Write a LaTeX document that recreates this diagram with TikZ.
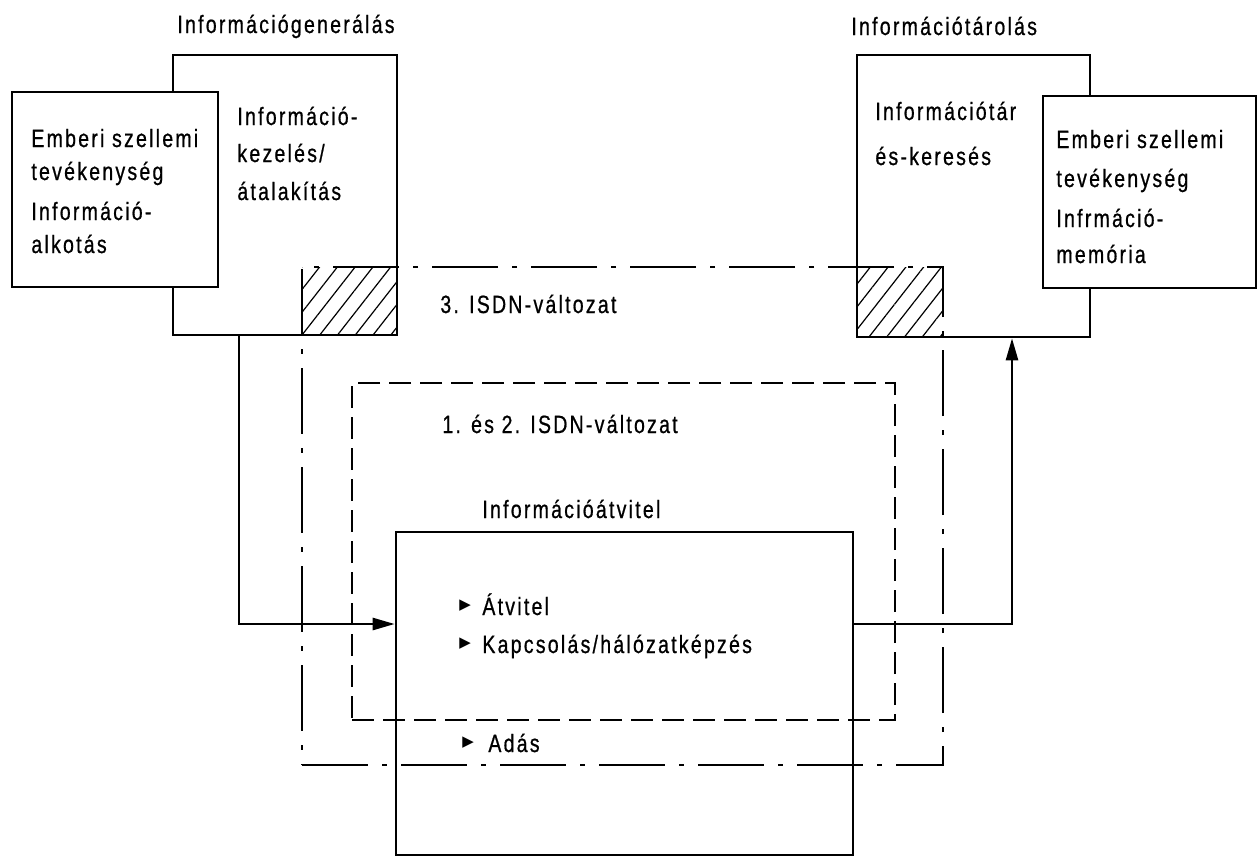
\documentclass[tikz,border=0pt]{standalone}
\usepackage{fontspec}
\setmainfont{Liberation Sans}[FakeStretch=0.78,LetterSpace=9,FakeBold=0.7]
\newfontfamily\symfont{DejaVu Sans}
\usetikzlibrary{fit,arrows.meta,patterns.meta}
\tikzset{
  box/.style={draw, line width=1.3pt, inner sep=0pt},
  whitebox/.style={box, fill=white},
  hatchbox/.style={inner sep=0pt, pattern={Lines[angle=52,distance=7pt,line width=0.6pt]}},
  dashdotbox/.style={draw, line width=1.3pt, inner sep=0pt, dash pattern=on 33pt off 7pt on 2.5pt off 7pt},
  dashbox/.style={draw, line width=1.3pt, inner sep=0pt, dash pattern=on 11pt off 4.5pt},
  flow/.style={line width=1.3pt, -{Triangle[length=11pt,width=6pt]}},
  lbl/.style={anchor=base west, inner sep=0pt, font=\fontsize{12.5}{15}\selectfont},
  bullet/.style={anchor=base west, inner sep=0pt, font=\symfont\fontsize{7.5}{9}\selectfont},
}
\begin{document}
\begin{tikzpicture}[x=0.5pt,y=-0.5pt]
\useasboundingbox (0,0) rectangle (1258,858);

% outer boxes: generation and storage
\node[box, fit={(173,55) (397,335)}] (gen) {};
\node[box, fit={(857,55) (1090,337)}] (tar) {};

% hatched overlap corners
\node[hatchbox, fit={(302,267) (397,335)}] (hatchL) {};
\node[hatchbox, fit={(857,267) (943,337)}] (hatchR) {};

% human activity boxes
\node[whitebox, fit={(12,92) (218,287)}] (humL) {};
\node[whitebox, fit={(1043,96) (1256,288)}] (humR) {};

% ISDN variant boundaries
\node[dashdotbox, fit={(302,267) (943,765)}] (isdn3) {};
\node[dashbox, fit={(352,383) (895,720)}] (isdn12) {};

% transmission box
\node[box, fit={(396,532) (853,855)}] (atv) {};

% connectors
\coordinate (lbend) at (239,624);
\draw[flow] (gen.south -| lbend) -- (lbend) -- (atv.west |- lbend);
\coordinate (rbend) at (1012,624);
\draw[flow] (atv.east |- rbend) -- (rbend) -- (tar.south -| rbend);

% titles
\node[lbl] (tgen) at (177,33) {Információgenerálás};
\node[lbl] (ttar) at (851,35) {Információtárolás};
\node[lbl] (tatv) at (482,518) {Információátvitel};

% left group texts
\node[lbl] (l1) at (31,147) {Emberi szellemi};
\node[lbl] (l2) at (31,180) {tevékenység};
\node[lbl] (l3) at (31,220) {Információ-};
\node[lbl] (l4) at (31,253) {alkotás};
\node[lbl] (g1) at (237,125) {Információ-};
\node[lbl] (g2) at (237,162) {kezelés/};
\node[lbl] (g3) at (237,200) {átalakítás};

% right group texts
\node[lbl] (s1) at (875,120) {Információtár};
\node[lbl] (s2) at (875,165) {és-keresés};
\node[lbl] (r1) at (1056,148) {Emberi szellemi};
\node[lbl] (r2) at (1056,187) {tevékenység};
\node[lbl] (r3) at (1056,227) {Infrmáció-};
\node[lbl] (r4) at (1056,263) {memória};

% variant labels
\node[lbl] (v3) at (440,313) {3. ISDN-változat};
\node[lbl] (v12) at (442,433) {1. és 2. ISDN-változat};

% transmission items
\node[bullet] (b1) at (459,609) {▶};
\node[lbl] (i1) at (482,615) {Átvitel};
\node[bullet] (b2) at (459,647) {▶};
\node[lbl] (i2) at (482,653) {Kapcsolás/hálózatképzés};
\node[bullet] (b3) at (462,746) {▶};
\node[lbl] (i3) at (488,752) {Adás};
\end{tikzpicture}
\end{document}
